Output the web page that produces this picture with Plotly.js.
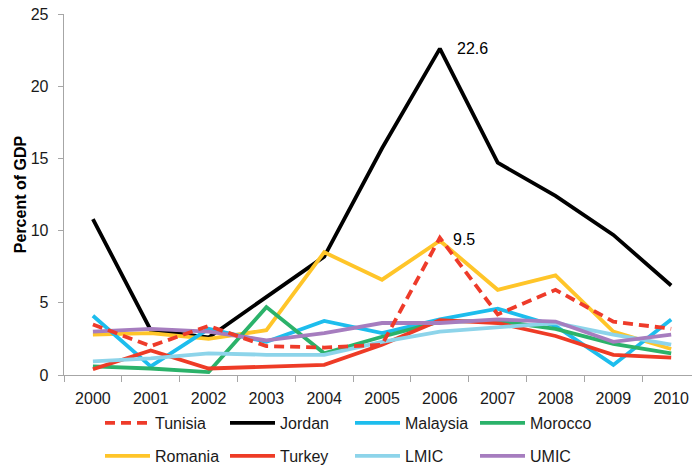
<!DOCTYPE html>
<html>
<head>
<meta charset="utf-8">
<script src="https://cdn.plot.ly/plotly-3.0.1.min.js"></script>
<style>
  html, body { margin: 0; padding: 0; background: #fff; }
  #chart { width: 692px; height: 466px; }
</style>
</head>
<body>
<div id="chart"></div>
<script>
let years = ["2000","2001","2002","2003","2004","2005","2006","2007","2008","2009","2010"];

let tunisia  = [3.5, 2.0, 3.4, 2.0, 1.9, 2.1, 9.5, 4.2, 5.9, 3.7, 3.2];
let jordan   = [10.8, 3.1, 2.6, 5.4, 8.2, 15.7, 22.6, 14.7, 12.4, 9.7, 6.2];
let malaysia = [4.1, 0.6, 3.2, 2.3, 3.75, 2.9, 3.85, 4.6, 3.4, 0.7, 3.85];
let morocco  = [0.6, 0.45, 0.2, 4.7, 1.5, 2.65, 3.7, 3.75, 3.2, 2.15, 1.5];
let romania  = [2.8, 2.9, 2.5, 3.1, 8.5, 6.6, 9.3, 5.9, 6.9, 3.0, 1.8];
let turkey   = [0.4, 1.7, 0.45, 0.6, 0.7, 2.1, 3.8, 3.6, 2.7, 1.4, 1.2];
let lmic     = [0.95, 1.15, 1.5, 1.4, 1.4, 2.3, 3.0, 3.3, 3.6, 2.8, 2.1];
let umic     = [3.0, 3.2, 3.0, 2.4, 2.9, 3.6, 3.6, 3.85, 3.7, 2.3, 2.8];

let font = "Liberation Sans, Arial, sans-serif";

function line(name, ys, color, rank, leg, dash){
	return {
		x: years, y: ys, name: name, type: "scatter", mode: "lines",
		line: {color: color, width: 3.8, dash: dash || "solid"},
		legend: leg, legendrank: rank, hoverinfo: "skip"
	};
}

let data = [
	line("Jordan", jordan, "#000000", 2, "legend"),
	line("Romania", romania, "#FFC529", 5, "legend2"),
	line("Malaysia", malaysia, "#1DBDED", 3, "legend"),
	line("Morocco", morocco, "#2BB26A", 4, "legend"),
	line("Turkey", turkey, "#EE3B26", 6, "legend2"),
	line("LMIC", lmic, "#8DD4EA", 7, "legend2"),
	line("UMIC", umic, "#A67DBF", 8, "legend2"),
	line("Tunisia", tunisia, "#EE3B2A", 1, "legend", "10px,6px")
];

let legendBase = {
	orientation: "h", xref: "container", yref: "container",
	x: 100/692, xanchor: "left", yanchor: "middle",
	entrywidth: 65, entrywidthmode: "pixels", itemwidth: 45,
	font: {family: font, size: 16, color: "#1a1a1a"},
	bgcolor: "rgba(0,0,0,0)", traceorder: "normal"
};

let layout = {
	width: 692, height: 466,
	margin: {l: 64, r: 0, t: 14, b: 91},
	paper_bgcolor: "#fff", plot_bgcolor: "#fff",
	font: {family: font, size: 16, color: "#1a1a1a"},
	xaxis: {
		type: "category", range: [-0.5, 10.36],
		tickson: "boundaries", ticks: "outside", ticklen: 6, tickcolor: "#a6a6a6",
		showline: true, linecolor: "#a6a6a6", linewidth: 1.3,
		showgrid: false, zeroline: false, ticklabelstandoff: 8,
		tickfont: {family: font, size: 16, color: "#1a1a1a"}
	},
	yaxis: {
		range: [0, 25], dtick: 5, ticks: "outside", ticklen: 5, tickcolor: "#a6a6a6",
		showline: true, linecolor: "#a6a6a6", linewidth: 1.3,
		showgrid: false, zeroline: false,
		ticklabelstandoff: 6,
		tickfont: {family: font, size: 16, color: "#1a1a1a"},
		title: {text: "<b>Percent of GDP</b>", standoff: 0,
			font: {family: font, size: 16, color: "#000"}}
	},
	showlegend: true,
	legend: Object.assign({}, legendBase, {y: 1 - 423/466}),
	legend2: Object.assign({}, legendBase, {y: 1 - 456/466}),
	annotations: [
		{x: 6, y: 22.6, xref: "x", yref: "y", text: "22.6", showarrow: false,
			xanchor: "left", xshift: 15, font: {family: font, size: 16, color: "#000"}},
		{x: 6, y: 9.5, xref: "x", yref: "y", text: "9.5", showarrow: false,
			xanchor: "left", xshift: 11, yshift: -2, font: {family: font, size: 16, color: "#000"}}
	]
};

Plotly.newPlot("chart", data, layout, {displayModeBar: false, staticPlot: true});
</script>
</body>
</html>
